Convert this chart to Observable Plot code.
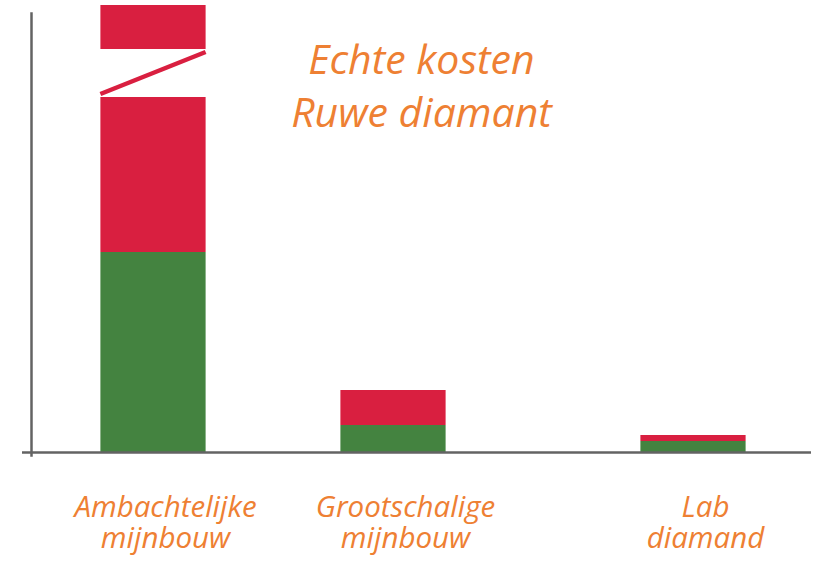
<!DOCTYPE html>
<html>
<head>
<meta charset="utf-8">
<script src="https://cdn.jsdelivr.net/npm/d3@7"></script>
<script src="https://cdn.jsdelivr.net/npm/@observablehq/plot@0.6"></script>
<style>
  html, body { margin: 0; padding: 0; background: #fff; }
  #chart svg { display: block; }
</style>
</head>
<body>
<div id="chart"></div>
<script>
// --- data ---
const categories = ["Ambachtelijke mijnbouw", "Grootschalige mijnbouw", "Lab diamand"];
const tickLabels = ["Ambachtelijke\nmijnbouw", "Grootschalige\nmijnbouw", "Lab\ndiamand"];
const groen = [200, 27, 11];   // onderste deel (groen)
const rood = [247, 35, 6];     // bovenste deel (rood); eerste balk loopt buiten beeld
const breukBand = [355, 403];  // onderbroken as bij eerste balk (waarde-eenheden)
const breukLijn = [358, 400];  // schuine lijn in de onderbreking
const titleLines = ["Echte kosten", "Ruwe diamant"];
const seriesNames = ["groen", "rood"];

const GREEN = "#448340";
const RED = "#d91f40";
const ORANGE = "#ee8033";
const AXIS = "#636363";

const data = categories.flatMap((c, i) => [
  {cat: c, deel: "groen", v: groen[i]},
  {cat: c, deel: "rood", v: rood[i]}
]);

// band slots to reproduce the uneven spacing of the original
const slots = [categories[0], "_1", "_2", "_3", categories[1], "_5", "_6", "_7", "_8", categories[2]];
const extend = -22.6;

const zigzag = (index, scales) => {
  const x = scales.x, y = scales.y;
  const step = x(slots[1]) - x(slots[0]);
  const cx = x(categories[0]) + step / 2;
  const half = step / 2 - extend;
  const g = d3.create("svg:g");
  g.append("line")
    .attr("x1", cx - half).attr("y1", y(breukLijn[0]))
    .attr("x2", cx + half).attr("y2", y(breukLijn[1]))
    .attr("stroke", RED).attr("stroke-width", 4.5);
  return g.node();
};

const chart = Plot.plot({
  width: 823,
  height: 565,
  marginLeft: 31,
  marginRight: 12,
  marginTop: 5,
  marginBottom: 113,
  style: {fontFamily: "'Open Sans', sans-serif", background: "#fff"},
  x: {type: "band", domain: slots, paddingInner: 0, paddingOuter: 1.475, align: 0.511, axis: null},
  y: {domain: [0, 447], axis: null},
  color: {domain: seriesNames, range: [GREEN, RED]},
  marks: [
    Plot.barY(data, {x: "cat", y: "v", fill: "deel", order: seriesNames, insetLeft: extend, insetRight: extend}),
    Plot.barY([categories[0]], {x: d => d, y1: breukBand[0], y2: breukBand[1], fill: "#fff", insetLeft: extend - 1, insetRight: extend - 1}),
    zigzag,
    Plot.ruleY([0], {stroke: AXIS, strokeWidth: 2.5, insetLeft: -9}),
    Plot.frame({anchor: "left", stroke: AXIS, strokeWidth: 2.5, insetTop: 8, insetBottom: -3}),
    Plot.text(categories, {
      x: d => d, frameAnchor: "bottom", text: (d, i) => tickLabels[i],
      lineAnchor: "top", dy: 41.7, dx: 12, fontSize: 29.5, fontStyle: "italic",
      fill: ORANGE, lineHeight: 1.07
    }),
    Plot.text([titleLines.join("\n")], {
      frameAnchor: "top", lineAnchor: "top", dy: 30.5, fontSize: 41, fontStyle: "italic",
      fill: ORANGE, lineHeight: 1.3
    })
  ]
});
document.getElementById("chart").appendChild(chart);
</script>
</body>
</html>
